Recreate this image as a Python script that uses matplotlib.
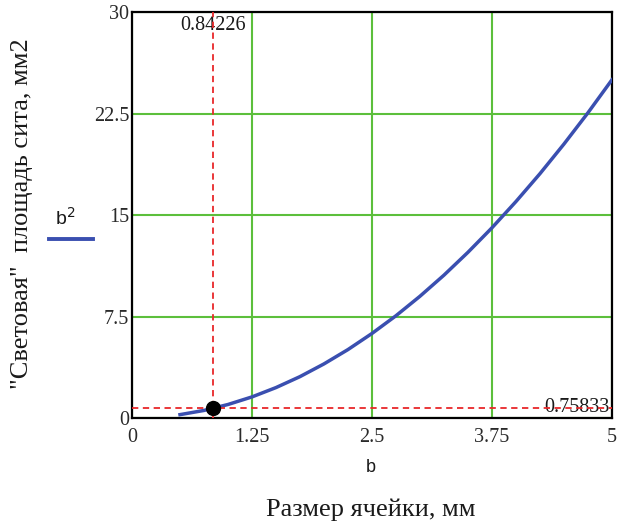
import matplotlib
matplotlib.use("Agg")
from matplotlib import pyplot as plt

# b, mm  and  b^2, mm2
b_vals = [0.5, 0.75, 1.0, 1.25, 1.5, 1.75, 2.0, 2.25, 2.5, 2.75, 3.0,
          3.25, 3.5, 3.75, 4.0, 4.25, 4.5, 4.75, 5.0]
area_vals = [0.25, 0.56, 1.0, 1.56, 2.25, 3.06, 4.0, 5.06, 6.25, 7.56, 9.0,
             10.56, 12.25, 14.06, 16.0, 18.06, 20.25, 22.56, 25.0]

# marked point
x_mark = 0.84226
y_mark = 0.75833

x_ticks = [0, 1.25, 2.5, 3.75, 5]
x_ticklabels = ["0", "1.25", "2.5", "3.75", "5"]
y_ticks = [0, 7.5, 15, 22.5, 30]
y_ticklabels = ["0", "7.5", "15", "22.5", "30"]

serif = ["Liberation Serif", "DejaVu Serif"]
sans = ["Liberation Sans", "DejaVu Sans"]
tick_color = "#2a2a2a"

fig = plt.figure(figsize=(6.18, 5.28), dpi=100)
ax = fig.add_axes([0.2136, 0.2083, 0.7765, 0.7685])

ax.set_xlim(0, 5)
ax.set_ylim(0, 30)
ax.set_xticks(x_ticks)
ax.set_yticks(y_ticks)
ax.set_xticklabels(x_ticklabels, fontfamily=serif, fontsize=14.5, color=tick_color)
ax.set_yticklabels(y_ticklabels, fontfamily=serif, fontsize=14.5, color=tick_color)
ax.tick_params(axis="x", length=0, pad=7)
ax.tick_params(axis="y", length=0, pad=2)

ax.grid(True, color="#5cbf3c", linewidth=1.5)
ax.set_axisbelow(True)
for s in ax.spines.values():
    s.set_linewidth(1.6)
    s.set_color("black")

ax.plot(b_vals, area_vals, color="#3a4fb0", linewidth=2.5, zorder=3)

# crosshair through the marked point
ax.axvline(x_mark, color="#e8282a", linestyle=(0, (3.5, 2.5)), linewidth=1.3, zorder=4)
ax.axhline(y_mark, color="#e8282a", linestyle=(0, (3.5, 2.5)), linewidth=1.3, zorder=4)
ax.plot([x_mark], [y_mark], "o", color="black", markersize=10, zorder=5)

ax.text(x_mark, 29.7, "0.84226", ha="center", va="top", fontfamily=serif,
        fontsize=14.5, color="#1a1a1a", zorder=3)
ax.text(4.98, y_mark, "0.75833", ha="right", va="center", fontfamily=serif,
        fontsize=14.5, color="#1a1a1a", zorder=3)

# axis labels
fig.text(0.036, 0.595, '"Световая"  площадь сита, мм2', rotation=90,
         ha="center", va="center", fontfamily=serif,
         fontsize=19, color="#1a1a1a")
fig.text(0.105, 0.588, "b$^2$", ha="center", va="center",
         fontfamily=sans, fontsize=14, color="#1a1a1a")
fig.lines.append(plt.Line2D([0.079, 0.150], [0.548, 0.548], transform=fig.transFigure,
                            color="#3a4fb0", linewidth=2.8))
fig.text(0.600, 0.114, "b", ha="center", va="center",
         fontfamily=sans, fontsize=13, color="#1a1a1a")
fig.text(0.600, 0.034, "Размер ячейки, мм", ha="center", va="center",
         fontfamily=serif, fontsize=19, color="#1a1a1a")

fig.savefig("out.png", dpi=100)
plt.close(fig)
